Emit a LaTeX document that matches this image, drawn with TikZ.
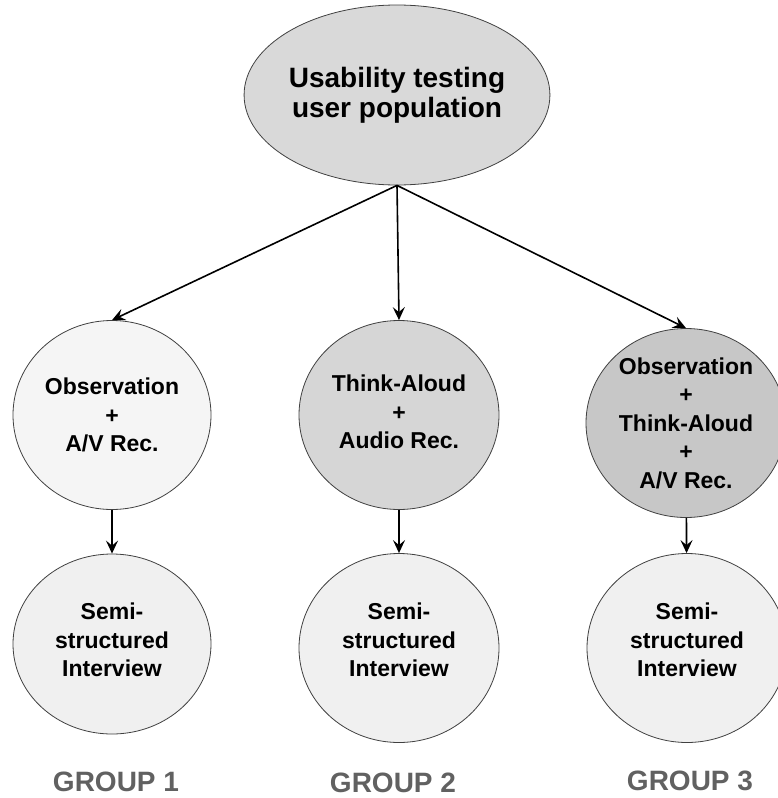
\documentclass[tikz,border=0pt]{standalone}
\usepackage{fontspec}
\setmainfont{Liberation Sans}
\usetikzlibrary{arrows.meta, shapes.geometric}

\begin{document}
\begin{tikzpicture}[x=1pt, y=-1pt,
  blob/.style={ellipse, draw=black!75, line width=0.8pt, inner sep=0pt, align=center,
    minimum width=200pt, minimum height=189pt, font=\bfseries\fontsize{23}{28.5}\selectfont},
  link/.style={-{Stealth[length=13pt,width=12pt,inset=5pt]}, line width=1.6pt},
  grouplabel/.style={font=\bfseries\fontsize{28}{30}\selectfont, text=black!62}]
  \path[use as bounding box] (0,0) rectangle (777,798);
  % top node
  \node[blob, fill=black!15, minimum width=244pt, minimum height=180pt,
    font=\bfseries\fontsize{28}{30}\selectfont] (pop) at (397,95) {Usability testing\\user population};
  % methods
  \node[blob, fill=black!4, minimum width=198pt] (obs) at (112,415) {Observation\\+\\A/V Rec.};
  \node[blob, fill=black!16, text depth=6pt] (think) at (399,415) {Think-Aloud\\+\\Audio Rec.};
  \node[blob, fill=black!22] (both) at (686,423) {Observation\\+\\Think-Aloud\\+\\A/V Rec.};
  % interviews
  \node[blob, fill=black!6, minimum width=198pt, minimum height=180pt, text depth=8pt] (int1) at (112,644) {Semi-\\structured\\Interview};
  \node[blob, fill=black!6, text depth=16pt] (int2) at (399,648) {Semi-\\structured\\Interview};
  \node[blob, fill=black!6, text depth=16pt] (int3) at (687,648) {Semi-\\structured\\Interview};
  % groups
  \node[grouplabel] (g1) at (116,782) {GROUP 1};
  \node[grouplabel] (g2) at (393,783) {GROUP 2};
  \node[grouplabel] (g3) at (690,781) {GROUP 3};
  \draw[link] (pop.south) -- (obs.north);
  \draw[link] (pop.south) -- (think.north);
  \draw[link] (pop.south) -- (both.north);
  \draw[link] (obs) -- (int1);
  \draw[link] (think) -- (int2);
  \draw[link] (both) -- (int3);
\end{tikzpicture}
\end{document}
